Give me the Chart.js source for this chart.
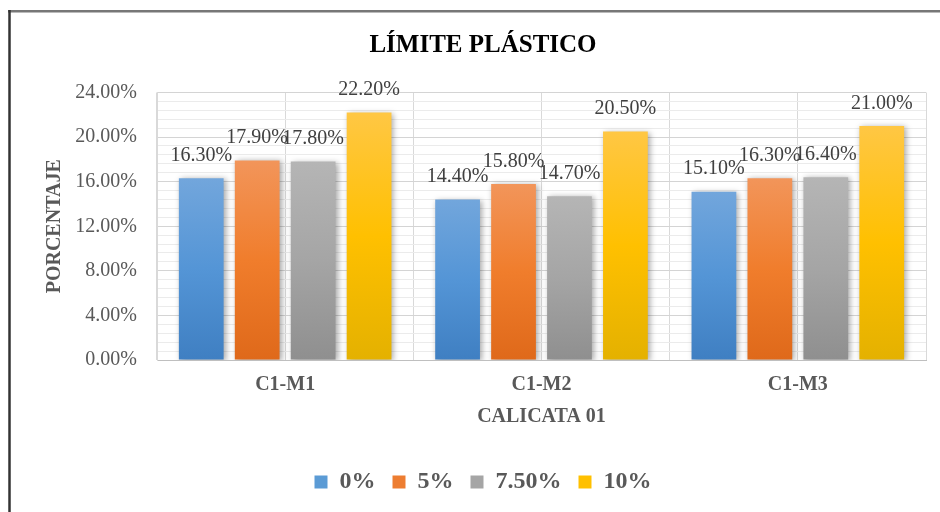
<!DOCTYPE html>
<html>
<head>
<meta charset="utf-8">
<script src="https://cdn.jsdelivr.net/npm/chart.js@4.4.1/dist/chart.umd.min.js"></script>
<style>
  html, body { margin: 0; padding: 0; background: #ffffff; }
  canvas { display: block; }
</style>
</head>
<body>
<canvas id="chart" width="940" height="512"></canvas>
<script>
// Plastic limit per sample, one series per additive dosage
const categories = ['C1-M1', 'C1-M2', 'C1-M3'];
const seriesNames = ['0%', '5%', '7.50%', '10%'];
const limit0 = [16.30, 14.40, 15.10];
const limit5 = [17.90, 15.80, 16.30];
const limit75 = [17.80, 14.70, 16.40];
const limit10 = [22.20, 20.50, 21.00];
const yTicks = [0, 4, 8, 12, 16, 20, 24];

const seriesValues = [limit0, limit5, limit75, limit10];

// Gradient stops for each series (top, middle, bottom) and a flat key colour
const palette = [
  { top: '#72a6dc', mid: '#5495d6', bottom: '#3f7fc2', key: '#5b9bd5' },
  { top: '#f2955a', mid: '#f07d2c', bottom: '#df691a', key: '#ed7d31' },
  { top: '#b5b5b5', mid: '#a5a5a5', bottom: '#8f8f8f', key: '#a5a5a5' },
  { top: '#ffc744', mid: '#ffc000', bottom: '#e4b100', key: '#ffc000' }
];

const serif = 'Liberation Serif, "Times New Roman", serif';
const axisGrey = '#595959';

function barFill(i) {
  return (ctx) => {
    const chart = ctx.chart;
    if (!chart.chartArea || ctx.type !== 'data') return palette[i].key;
    const y = chart.scales.y;
    const top = y.getPixelForValue(ctx.parsed.y);
    const bottom = y.getPixelForValue(0);
    const g = chart.ctx.createLinearGradient(0, top, 0, bottom);
    g.addColorStop(0, palette[i].top);
    g.addColorStop(0.5, palette[i].mid);
    g.addColorStop(1, palette[i].bottom);
    return g;
  };
}

// Soft drop shadow under the bars, then the value printed above each bar
const barDecor = {
  id: 'barDecor',
  beforeDatasetsDraw(chart) {
    const c = chart.ctx;
    c.save();
    c.shadowColor = 'rgba(0,0,0,0.35)';
    c.shadowBlur = 6;
    c.shadowOffsetX = 2;
    c.shadowOffsetY = 1;
  },
  afterDatasetsDraw(chart) {
    const c = chart.ctx;
    c.restore();
    c.save();
    c.font = '20px ' + serif;
    c.fillStyle = '#404040';
    c.textAlign = 'center';
    c.textBaseline = 'middle';
    chart.data.datasets.forEach((ds, di) => {
      const meta = chart.getDatasetMeta(di);
      meta.data.forEach((bar, i) => {
        const v = ds.data[i];
        c.fillText(v.toFixed(2) + '%', bar.x, bar.y - 22.5);
      });
    });
    c.restore();
  }
};

// Outer frame along the left and top edges
const frame = {
  id: 'frame',
  afterDraw(chart) {
    const c = chart.ctx;
    c.save();
    c.strokeStyle = '#777777';
    c.lineWidth = 2.5;
    c.beginPath();
    c.moveTo(8, 11.3);
    c.lineTo(940, 11.3);
    c.stroke();
    c.strokeStyle = '#333333';
    c.beginPath();
    c.moveTo(9.5, 10);
    c.lineTo(9.5, 512);
    c.stroke();
    c.restore();
  }
};

new Chart(document.getElementById('chart'), {
  type: 'bar',
  data: {
    labels: categories,
    datasets: seriesNames.map((name, i) => ({
      label: name,
      data: seriesValues[i],
      backgroundColor: barFill(i),
      borderWidth: 0,
      barPercentage: 0.8,
      categoryPercentage: 0.873,
      xAxisID: 'x',
      yAxisID: 'y'
    }))
  },
  options: {
    responsive: false,
    animation: false,
    events: [],
    layout: { padding: { left: 40, right: 14, top: 0, bottom: 8 } },
    plugins: {
      title: {
        display: true,
        text: 'LÍMITE PLÁSTICO',
        color: '#000000',
        font: { family: serif, size: 25, weight: 'bold', lineHeight: 1.2 },
        padding: { top: 31, bottom: 31.5 }
      },
      legend: {
        position: 'bottom',
        labels: {
          color: axisGrey,
          font: { family: serif, size: 24, weight: 'bold' },
          boxWidth: 13,
          boxHeight: 13,
          padding: 17,
          generateLabels(chart) {
            const items = Chart.defaults.plugins.legend.labels.generateLabels(chart);
            items.forEach((it, i) => {
              it.fillStyle = palette[i].key;
              it.strokeStyle = palette[i].key;
              it.lineWidth = 0;
            });
            return items;
          }
        }
      },
      tooltip: { enabled: false }
    },
    scales: {
      x: {
        type: 'category',
        position: 'bottom',
        offset: true,
        grid: { offset: true, color: '#d9d9d9', drawTicks: false },
        border: { color: '#bfbfbf', width: 1 },
        ticks: {
          padding: 13,
          color: axisGrey,
          font: { family: serif, size: 20, weight: 'bold' }
        },
        title: {
          display: true,
          text: 'CALICATA 01',
          color: axisGrey,
          font: { family: serif, size: 20, weight: 'bold', lineHeight: 1.2 },
          padding: { top: 0, bottom: 24 }
        },
        afterFit(s) { s.height = 93; }
      },
      xMid: {
        type: 'category',
        position: 'bottom',
        offset: true,
        grid: { offset: false, color: '#d9d9d9', drawTicks: false },
        border: { display: false },
        ticks: { display: false },
        afterFit(s) { s.height = 0; }
      },
      y: {
        type: 'linear',
        position: 'left',
        min: 0,
        max: 24,
        afterBuildTicks(s) { s.ticks = yTicks.map(v => ({ value: v })); },
        grid: { color: '#d4d4d4', drawTicks: false },
        border: { color: '#d9d9d9' },
        ticks: {
          padding: 20,
          color: axisGrey,
          font: { family: serif, size: 20 },
          callback: (v) => Number(v).toFixed(2) + '%'
        },
        title: {
          display: true,
          text: 'PORCENTAJE',
          color: axisGrey,
          font: { family: serif, size: 20, weight: 'bold', lineHeight: 1.2 },
          padding: { top: 3, bottom: 0 }
        },
        afterFit(s) { s.width = 117; }
      },
      yMinor: {
        type: 'linear',
        position: 'left',
        min: 0,
        max: 24,
        afterBuildTicks(s) {
          const t = [];
          for (let k = 0; k <= 30; k++) t.push({ value: k * 0.8 });
          s.ticks = t;
        },
        grid: {
          drawTicks: false,
          color: (c) => (c.index % 5 === 0 ? 'rgba(0,0,0,0)' : '#ebebeb')
        },
        border: { display: false },
        ticks: { display: false },
        afterFit(s) { s.width = 0; }
      }
    }
  },
  plugins: [barDecor, frame]
});
</script>
</body>
</html>
